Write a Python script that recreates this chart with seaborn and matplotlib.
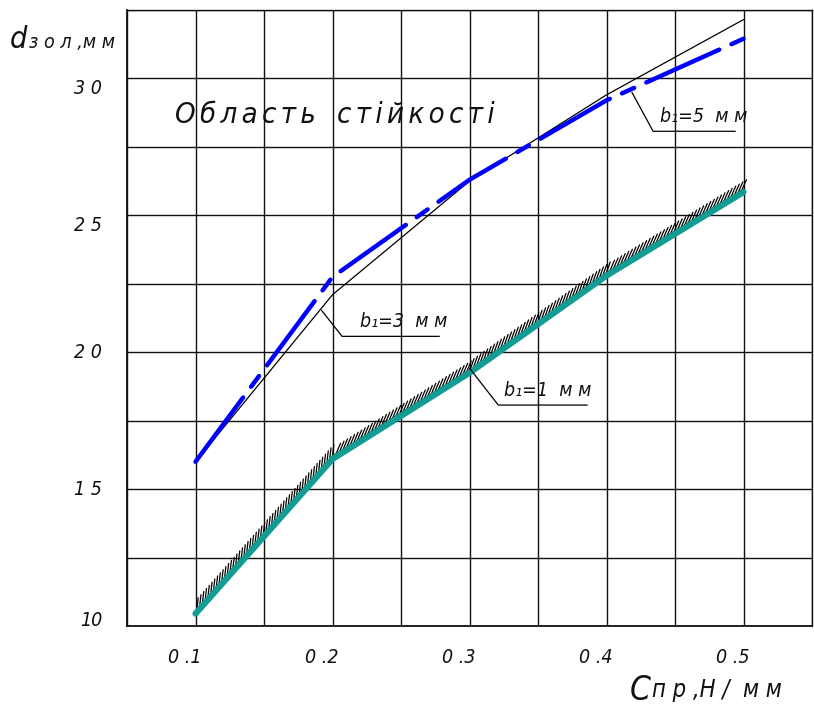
import matplotlib
matplotlib.use("Agg")
import matplotlib.pyplot as plt
import matplotlib.patheffects as pe
import seaborn as sns
import pandas as pd
import numpy as np

c_pr = [0.1, 0.2, 0.3, 0.4, 0.5]
d_b5 = [16.0, 22.75, 26.3, 29.2, 31.45]
d_b3 = [16.0, 22.1, 26.25, 29.4, 32.15]
d_b1 = [10.45, 16.1, 19.25, 22.8, 25.85]
x_ticks = [0.1, 0.2, 0.3, 0.4, 0.5]
x_tick_labels = ["0 .1", "0 .2", "0 .3", "0 .4", "0 .5"]
y_ticks = [10, 15, 20, 25, 30]
y_tick_labels = ["10", "1 5", "2 0", "2 5", "3 0"]

sns.set_style("white")
FAM = ["DejaVu Sans"]
plt.rcParams['font.family'] = FAM
plt.rcParams['font.stretch'] = 'condensed'
TXT = dict(style="italic", family=FAM, stretch="condensed", color="#111111")

fig = plt.figure(figsize=(8.14, 7.11), dpi=100)
ax = fig.add_axes([127/814, 85/711, (812-127)/814, (626-10)/711])

df = pd.DataFrame({"c": c_pr, "b5": d_b5, "b3": d_b3, "b1": d_b1})

# b1=3 thin black
sns.lineplot(data=df, x="c", y="b3", ax=ax, color="black", lw=0.9, zorder=3)
# b1=5 blue dash-dot
sns.lineplot(data=df, x="c", y="b5", ax=ax, color="#0000ff", lw=3.2, zorder=4)
ax.lines[-1].set_dashes([18, 3, 3, 3])
ax.lines[-1].set_dash_capstyle("round")
# b1=1 hatch boundary
df["b1h"] = df["b1"] + 0.1
sns.lineplot(data=df, x="c", y="b1h", ax=ax, color="black", lw=0.8, zorder=3,
             path_effects=[pe.withTickedStroke(spacing=3.0, angle=35, length=2.8, linewidth=0.9),
                           pe.Normal()])
sns.lineplot(data=df, x="c", y="b1", ax=ax, color="#139c94", lw=4.5, zorder=5,
             solid_capstyle="round")

ax.set_xlim(0.05, 0.55)
ax.set_ylim(10, 32.5)
ax.set_xticks(np.arange(0.05, 0.551, 0.05))
ax.set_yticks(np.arange(10, 32.6, 2.5))
ax.grid(True, color="#111111", lw=1.0)
ax.tick_params(length=0, labelleft=False, labelbottom=False)
ax.set_xlabel("")
ax.set_ylabel("")
for s in ax.spines.values():
    s.set_color("#111111")
    s.set_linewidth(1.0)
ax.spines['left'].set_linewidth(1.3)
ax.spines['bottom'].set_linewidth(1.3)

for xv, lab in zip(x_ticks, x_tick_labels):
    ax.annotate(lab, xy=(xv, 10), xycoords="data", xytext=(-8, -23),
                textcoords="offset points", ha="center", va="center", fontsize=14, **TXT)
for yv, lab in zip(y_ticks, y_tick_labels):
    dy = {30: -7, 25: -7, 20: 0, 15: 0, 10: 4}[yv]
    ax.annotate(lab, xy=(0.05, yv), xycoords="data", xytext=(-18, dy),
                textcoords="offset points", ha="right", va="center", fontsize=14, **TXT)

# axis labels
fig.text(10/814, 1 - 40/711, "d", fontsize=22, va="center", **TXT)
fig.text(29/814, 1 - 42/711, "з о л ,м м", fontsize=14, va="center", **TXT)
fig.text(630/814, 1 - 690/711, "С", fontsize=24, va="center", **TXT)
fig.text(652/814, 1 - 690/711, "п р ,Н /  м м", fontsize=17, va="center", **TXT)

# region text
S = "\u2006"
region = S.join("Область") + S + "  " + S.join("стійкості")
ax.text(0.085, 28.65, region, fontsize=21, va="center", ha="left", **TXT)

# callouts
def callout(x0, y0, x1, y1, x2, label, dx):
    ax.plot([x0, x1, x2], [y0, y1, y1], color="black", lw=0.9, zorder=6)
    ax.text(x1 + dx, y1 + 0.2, label, fontsize=14, ha="left", va="bottom", **TXT)

callout(0.4186, 29.49, 0.434, 28.07, 0.494, "b\u2081=5  м м", 0.005)
callout(0.192, 21.53, 0.207, 20.58, 0.278, "b\u2081=3  м м", 0.013)
callout(0.30, 19.42, 0.321, 18.07, 0.386, "b\u2081=1  м м", 0.004)

fig.savefig("out.png", dpi=100)
